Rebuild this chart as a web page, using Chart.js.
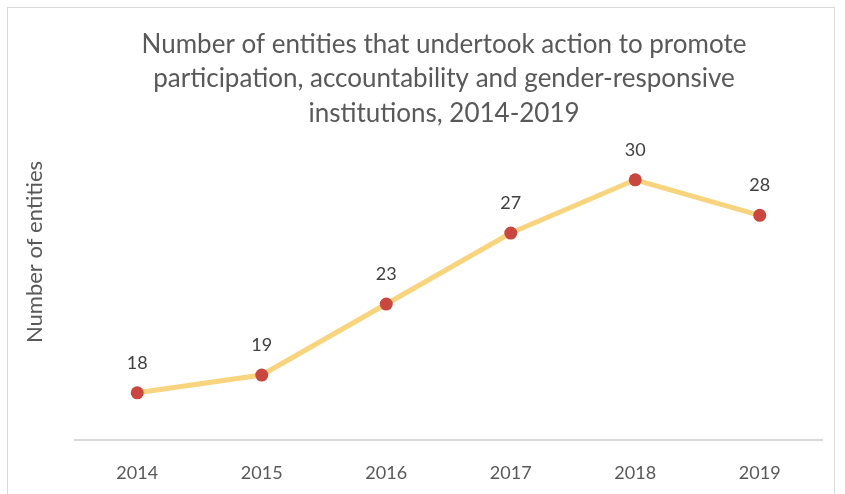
<!DOCTYPE html>
<html>
<head>
<meta charset="utf-8">
<script src="https://cdn.jsdelivr.net/npm/chart.js@4"></script>
<style>
  html, body { margin: 0; padding: 0; background: #fff; }
  #wrap { position: relative; width: 845px; height: 494px; overflow: hidden; }
  #frame { position: absolute; left: 7px; top: 7px; width: 828px; height: 520px; border: 1px solid #d9d9d9; box-sizing: border-box; }
  canvas { position: absolute; left: 0; top: 0; }
</style>
</head>
<body>
<div id="wrap">
  <div id="frame"></div>
  <canvas id="chart" width="845" height="494"></canvas>
</div>
<script>
'use strict';

// ── Data ─────────────────────────────────────────────
const years    = ['2014', '2015', '2016', '2017', '2018', '2019'];
const entities = [18, 19, 23, 27, 30, 28];
const titleLines = [
    'Number of entities that undertook action to promote',
    'participation, accountability and gender-responsive',
    'institutions, 2014-2019'
];
const yTitle = 'Number of entities';

const FONT = "Lato, 'Open Sans', sans-serif";

// value labels above each point + vertical axis title (Excel puts it higher than the plot centre)
const extraText = {
    id: 'extraText',
    afterDatasetsDraw(chart) {
        const ctx = chart.ctx;
        const meta = chart.getDatasetMeta(0);
        ctx.save();
        ctx.font = '18px ' + FONT;
        ctx.fillStyle = '#404040';
        ctx.textAlign = 'center';
        ctx.textBaseline = 'middle';
        meta.data.forEach((pt, i) => {
            ctx.fillText(String(entities[i]), pt.x, pt.y - 30);
        });

        ctx.translate(35, 252);
        ctx.rotate(-Math.PI / 2);
        ctx.font = '22px ' + FONT;
        ctx.fillStyle = '#595959';
        ctx.fillText(yTitle, 0, 0);
        ctx.restore();
    }
};

new Chart(document.getElementById('chart').getContext('2d'), {
    type: 'line',
    data: {
        labels: years,
        datasets: [{
            data: entities,
            borderColor: '#f9d47f',
            borderWidth: 5,
            backgroundColor: '#c9473f',
            pointBackgroundColor: '#c9473f',
            pointBorderColor: '#c9473f',
            pointBorderWidth: 0,
            pointRadius: 6.5,
            tension: 0,
            fill: false
        }]
    },
    options: {
        responsive: false,
        animation: false,
        layout: { padding: { left: 66, right: 23, top: 0, bottom: 0 } },
        plugins: {
            legend: { display: false },
            tooltip: { enabled: false },
            title: {
                display: true,
                text: titleLines,
                color: '#595959',
                font: { family: FONT, size: 26, weight: 'normal', lineHeight: 1.33 },
                padding: { top: 27, bottom: 18 }
            }
        },
        scales: {
            x: {
                offset: true,
                grid: { display: false },
                border: { display: true, color: '#d9d9d9', width: 2 },
                ticks: { color: '#595959', font: { family: FONT, size: 18 }, padding: 14 },
                afterFit: s => { s.height = 54; }
            },
            y: {
                min: 15.34,
                max: 31.75,
                grid: { display: false },
                border: { display: false },
                ticks: { display: false },
                afterFit: s => { s.width = 9; }
            }
        }
    },
    plugins: [extraText]
});
</script>
</body>
</html>
